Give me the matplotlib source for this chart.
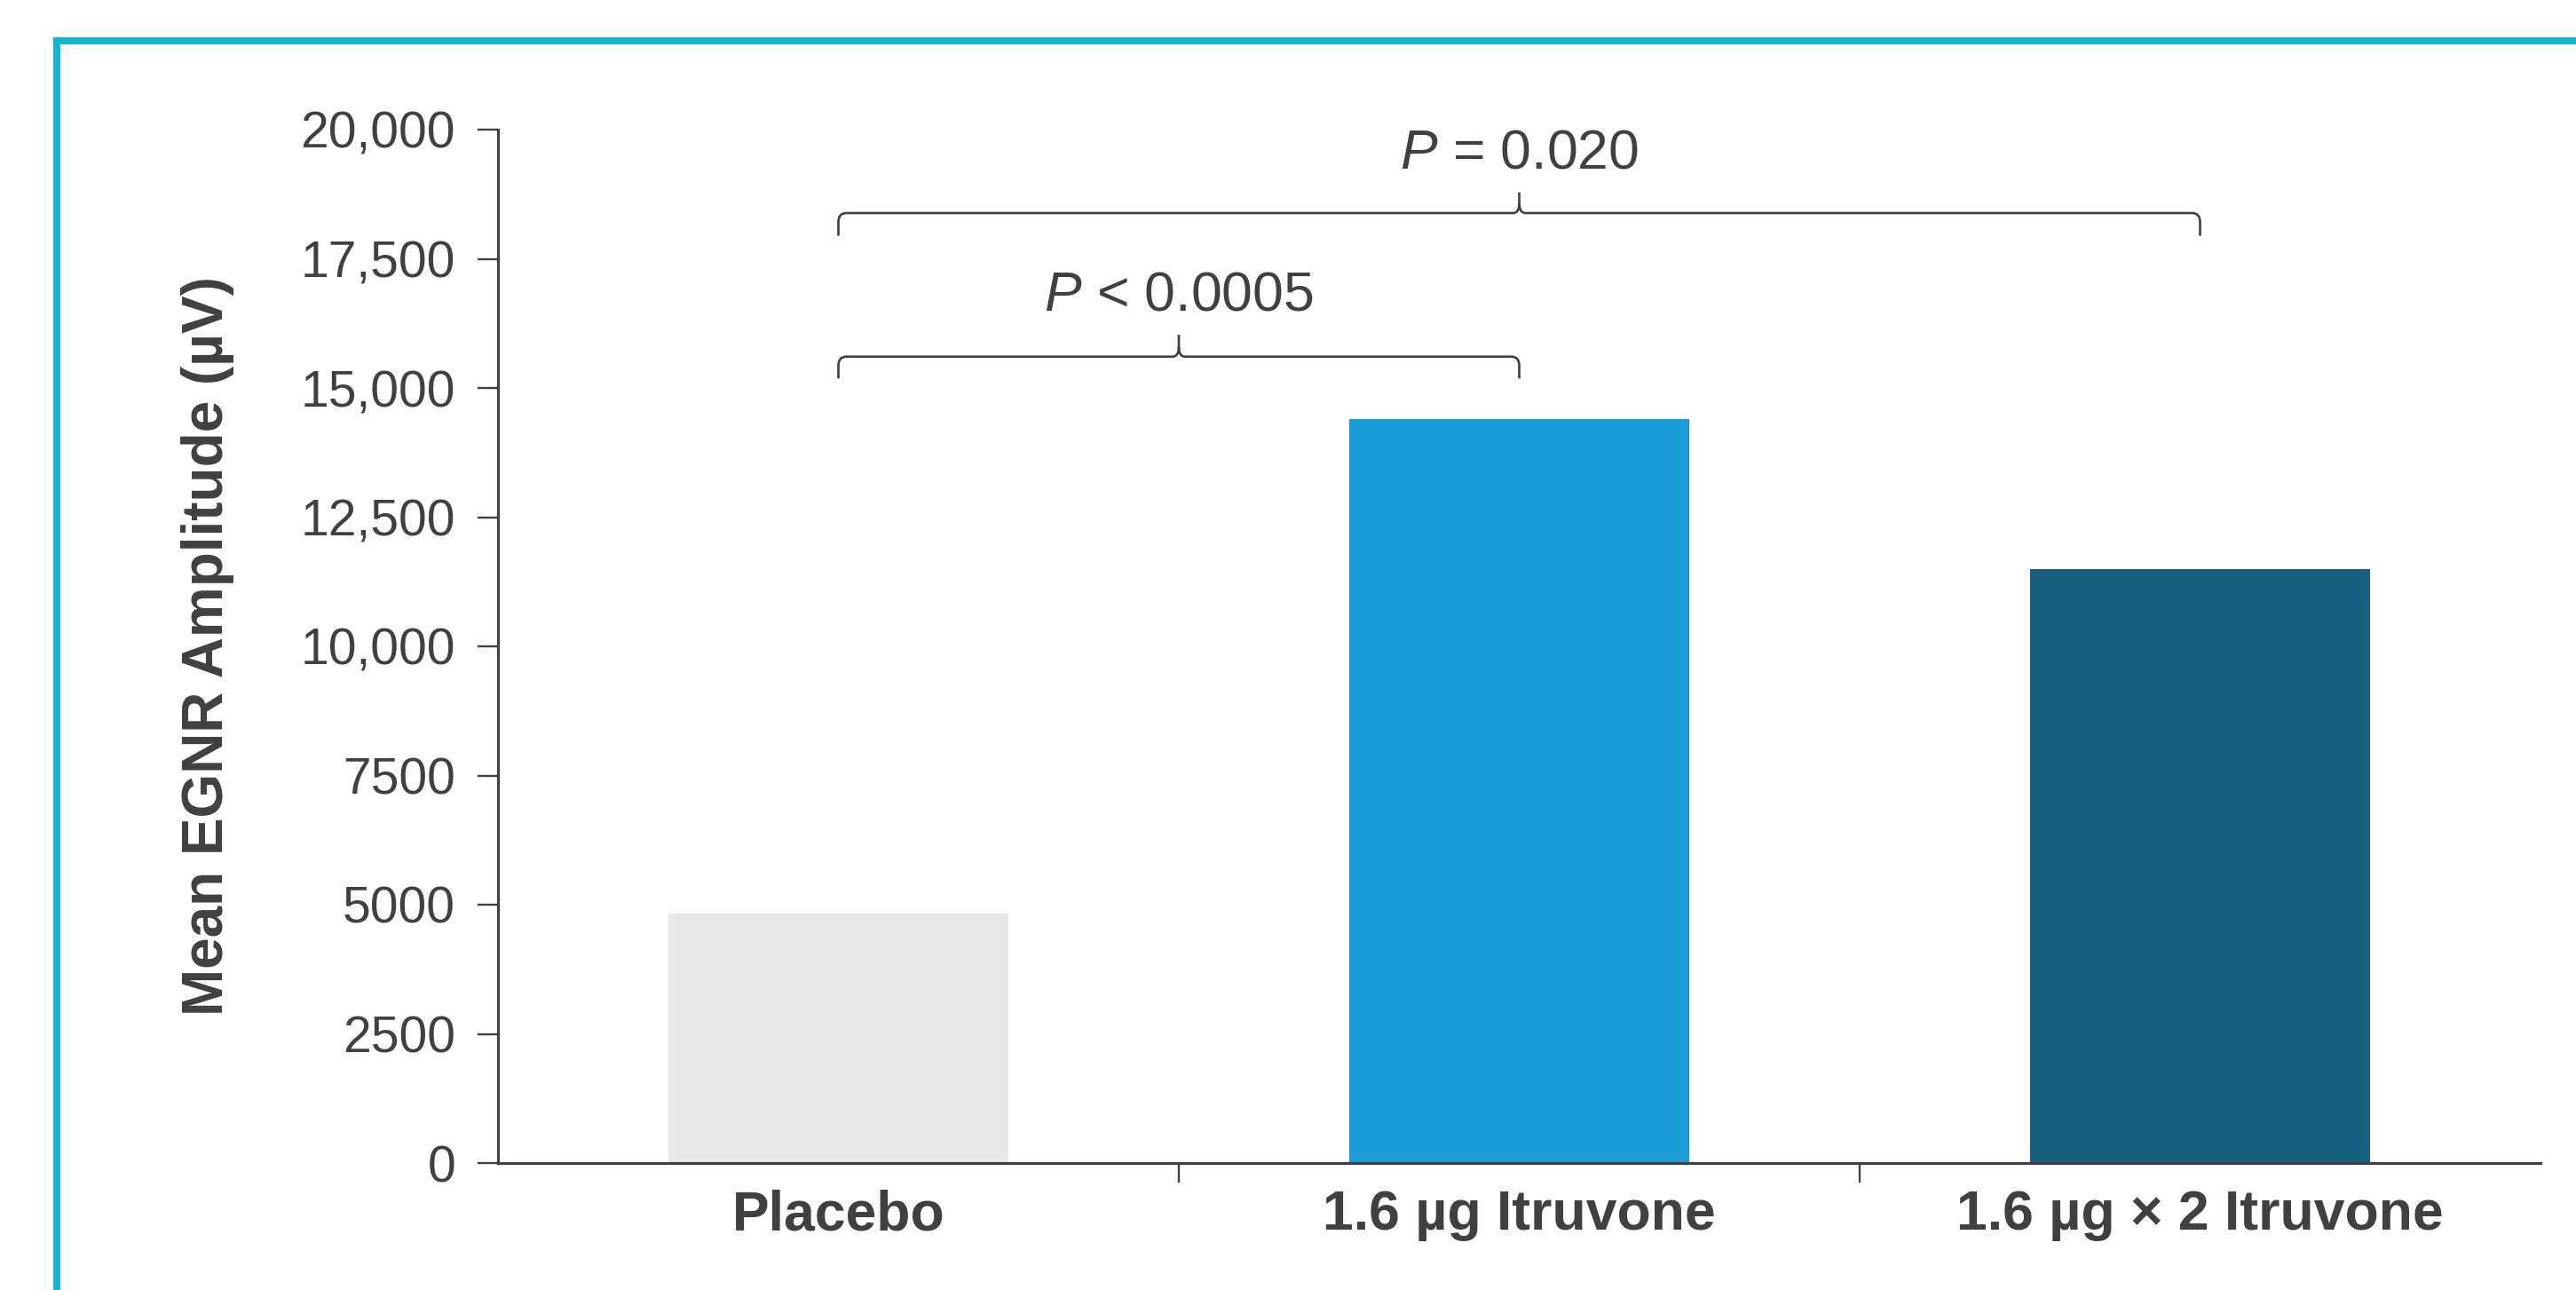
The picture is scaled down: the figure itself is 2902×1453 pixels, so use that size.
import matplotlib
matplotlib.use("Agg")
import matplotlib.pyplot as plt
from matplotlib.path import Path
from matplotlib.patches import PathPatch, Rectangle
from matplotlib.ticker import FixedLocator

# ---- data ----
categories = ["Placebo", "1.6 µg Itruvone", "1.6 µg × 2 Itruvone"]
values = [4830, 14400, 11500]
y_ticks = [0, 2500, 5000, 7500, 10000, 12500, 15000, 17500, 20000]
y_tick_labels = ["0", "2500", "5000", "7500", "10,000", "12,500", "15,000", "17,500", "20,000"]
p_labels = ["$P$ < 0.0005", "$P$ = 0.020"]
comparison_pairs = [(0, 1), (0, 2)]
y_label = "Mean EGNR Amplitude (µV)"

# ---- style ----
bar_colors = ["#e8e8e8", "#1a9dd6", "#186080"]
text_color = "#404040"
frame_color = "#19b4cf"

plt.rcParams["font.family"] = ["Liberation Sans", "DejaVu Sans"]
plt.rcParams["mathtext.fontset"] = "custom"
plt.rcParams["mathtext.rm"] = "Liberation Sans"
plt.rcParams["mathtext.it"] = "Liberation Sans:italic"

W, H = 2902, 1453
fig = plt.figure(figsize=(W / 100, H / 100), dpi=100)

# axes placement (pixels)
ax_l, ax_r, ax_t, ax_b = 561, 2862, 146, 1310
ax = fig.add_axes([ax_l / W, (H - ax_b) / H, (ax_r - ax_l) / W, (ax_b - ax_t) / H])

x = list(range(len(categories)))
ax.bar(x, values, width=0.5, color=bar_colors, zorder=1)

ax.set_xlim(-0.5, len(categories) - 0.5)
ax.set_ylim(0, 20000)

for s in ["top", "right"]:
    ax.spines[s].set_visible(False)
for s in ["left", "bottom"]:
    ax.spines[s].set_color(text_color)
    ax.spines[s].set_linewidth(2.3)
    ax.spines[s].set_zorder(3)

ax.set_yticks(y_ticks)
ax.set_yticklabels(y_tick_labels)
ax.tick_params(axis="y", length=16.5, width=1.7, pad=18, labelsize=41,
               colors=text_color, direction="out")

ax.set_xticks(x)
ax.set_xticklabels(categories, fontweight="bold")
ax.tick_params(axis="x", which="major", length=0, pad=21, labelsize=45, colors=text_color)
ax.xaxis.set_minor_locator(FixedLocator([i + 0.5 for i in x[:-1]]))
ax.tick_params(axis="x", which="minor", length=16, width=1.7, color=text_color, direction="out")

ax.set_ylabel(y_label, fontsize=46, fontweight="bold", color=text_color)
ax.yaxis.set_label_coords(-0.129, 0.5)

# ---- brackets ----
px_x = 3.0 / (ax_r - ax_l)      # data units per pixel (x)
px_y = 20000.0 / (ax_b - ax_t)  # data units per pixel (y)

def brace(x0, x1, yh, yend, ytip, rx=9, ry=10, tx=7, ty=11):
    xm = (x0 + x1) / 2
    rxd, ryd, txd, tyd = rx * px_x, ry * px_y, tx * px_x, ty * px_y
    verts = [
        (x0, yend), (x0, yh - ryd),
        (x0, yh), (x0 + rxd, yh),
        (xm - txd, yh),
        (xm, yh), (xm, yh + tyd),
        (xm, ytip),
        (xm, yh + tyd),
        (xm, yh), (xm + txd, yh),
        (x1 - rxd, yh),
        (x1, yh), (x1, yh - ryd),
        (x1, yend),
    ]
    codes = [Path.MOVETO, Path.LINETO,
             Path.CURVE3, Path.CURVE3,
             Path.LINETO,
             Path.CURVE3, Path.CURVE3,
             Path.LINETO,
             Path.MOVETO,
             Path.CURVE3, Path.CURVE3,
             Path.LINETO,
             Path.CURVE3, Path.CURVE3,
             Path.LINETO]
    ax.add_patch(PathPatch(Path(verts, codes), fill=False, edgecolor=text_color,
                           linewidth=1.9, clip_on=False, zorder=4))

bracket_levels = [(15606, 15185, 16030, 16495), (18385, 17945, 18785, 19244)]
for (i0, i1), (yh, yend, ytip, ytext), lab in zip(comparison_pairs, bracket_levels, p_labels):
    brace(x[i0], x[i1], yh, yend, ytip)
    ax.text((x[i0] + x[i1]) / 2, ytext, lab, ha="center", va="baseline",
            fontsize=45, color=text_color, clip_on=False)

# ---- cyan frame (top and left visible) ----
fig.add_artist(Rectangle((63.5 / W, -0.2), 1.3, (H - 46) / H + 0.2,
                         transform=fig.transFigure, fill=False,
                         edgecolor=frame_color, linewidth=5.8, clip_on=False))

fig.savefig("out.png", dpi=100)
